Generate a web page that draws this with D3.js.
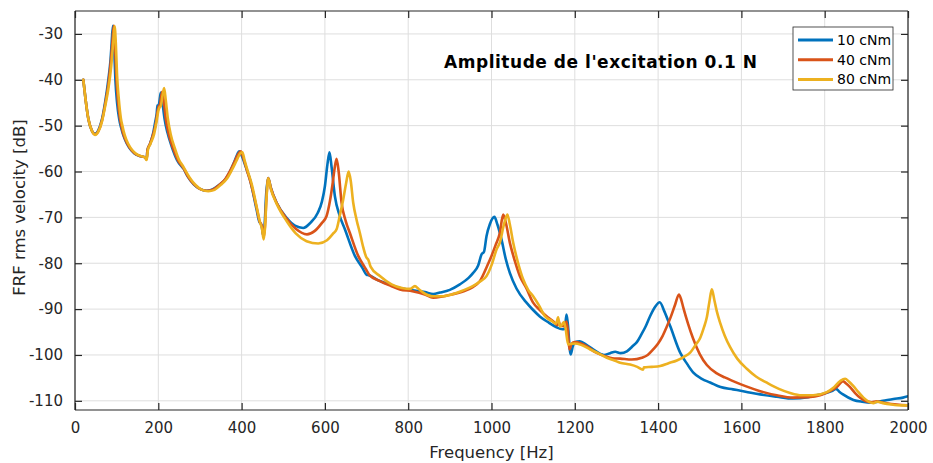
<!DOCTYPE html>
<html>
<head>
<meta charset="utf-8">
<script src="https://cdn.jsdelivr.net/npm/d3@7"></script>
<style>
  html, body { margin: 0; padding: 0; background: #ffffff; }
  svg { display: block; font-family: "DejaVu Sans", sans-serif; }
</style>
</head>
<body>
<svg id="chart" width="933" height="463"></svg>
<script>
// ---- data (frequency in Hz, FRF in dB) ----
const seriesNames = ["10 cNm", "40 cNm", "80 cNm"];
const seriesColors = ["#0072BD", "#D95319", "#EDB120"];
const xTicks = [0, 200, 400, 600, 800, 1000, 1200, 1400, 1600, 1800, 2000];
const yTicks = [-110, -100, -90, -80, -70, -60, -50, -40, -30];
const chartTitle = "Amplitude de l'excitation 0.1 N";
const xLabel = "Frequency [Hz]";
const yLabel = "FRF rms velocity [dB]";

const s10 = [[20,-40],[25,-44],[32,-48.5],[40,-51],[48,-51.8],[56,-51],[65,-48.5],[73,-44.5],[80,-40],[85,-36],[88,-32],[91,-28.2],[94,-33],[97,-40],[101,-45],[106,-48.5],[111,-50.5],[114,-51.5],[120,-53],[130,-54.8],[142,-56],[155,-56.6],[168,-56.9],[172,-57.3],[174,-55.3],[180,-54],[188,-51.5],[193,-49],[196,-47.5],[198,-45.6],[201,-45.5],[206,-42.8],[210,-45],[215,-48.5],[222,-51.5],[232,-54.5],[245,-57.5],[255,-58.8],[260,-59.3],[270,-61],[285,-62.8],[300,-63.8],[315,-64.2],[330,-63.9],[345,-63],[360,-61.8],[372,-60],[382,-58],[390,-56.2],[394,-55.6],[400,-56.5],[410,-59],[420,-61.7],[436,-68.3],[442,-70.8],[448,-71.8],[452,-74],[455,-72],[459,-65],[464,-61.4],[470,-63.5],[484,-66.8],[508,-70.1],[528,-71.8],[548,-72.3],[565,-71.2],[583,-69],[593,-66.5],[600,-63.2],[606,-58.5],[611,-55.8],[616,-59],[624,-65.4],[635,-69.5],[648,-72.6],[672,-78.4],[690,-81],[700,-82.5],[705,-82.6],[730,-83.8],[760,-84.8],[780,-85.4],[810,-85.9],[840,-86.3],[860,-86.7],[876,-86.4],[900,-85.8],[924,-84.6],[945,-83.2],[956,-82.1],[968,-80.5],[976,-78.1],[982,-77.5],[988,-74.1],[996,-71.5],[1007,-69.9],[1014,-71.5],[1024,-74.8],[1034,-79],[1044,-82.1],[1060,-85.5],[1084,-88.6],[1100,-90.2],[1116,-91.6],[1135,-92.8],[1155,-93.9],[1170,-94.4],[1176,-94.3],[1180,-91.2],[1183,-93],[1190,-99.9],[1195,-98.2],[1200,-97.2],[1212,-97],[1228,-97.8],[1244,-98.8],[1270,-100],[1285,-99.6],[1297,-99.3],[1310,-99.6],[1325,-99.2],[1340,-98],[1349,-97.2],[1360,-95.5],[1370,-93.8],[1381,-91.5],[1393,-89.5],[1404,-88.5],[1415,-90.5],[1429,-93.7],[1453,-99.5],[1470,-102],[1484,-103.8],[1505,-105.2],[1525,-106],[1550,-107],[1580,-107.5],[1610,-108],[1645,-108.6],[1685,-109.1],[1724,-109.5],[1760,-109.2],[1789,-108.6],[1817,-107.9],[1827,-107.4],[1835,-108],[1844,-108.6],[1869,-109.8],[1890,-110.2],[1913,-110.4],[1940,-110],[1965,-109.6],[1988,-109.3],[2000,-109]];

const s40 = [[20,-40],[25,-44],[32,-48.5],[40,-51],[48,-51.9],[56,-51.2],[65,-48.8],[73,-45],[80,-41],[86,-36],[90,-31.5],[93,-28.2],[96,-32],[99,-39],[103,-44.5],[108,-48.5],[112,-50.3],[115,-51.5],[121,-53],[131,-54.8],[143,-56],[156,-56.6],[168,-56.9],[172,-57.3],[174,-55.3],[180,-54],[188,-51.8],[194,-49.5],[198,-47],[201,-45.8],[204,-45.4],[209,-42.6],[213,-44.5],[218,-48.5],[225,-51.8],[235,-54.8],[247,-57.5],[257,-58.8],[262,-59.5],[272,-61.2],[287,-62.9],[302,-63.9],[317,-64.2],[332,-63.9],[347,-62.9],[362,-61.5],[374,-59.6],[385,-57.5],[393,-56],[398,-55.6],[404,-57],[413,-59.8],[422,-62.5],[437,-68.3],[443,-70.8],[449,-72],[453,-74.3],[456,-72],[460,-65],[464,-61.4],[470,-63.5],[484,-66.8],[508,-70.3],[530,-72.5],[557,-73.7],[575,-73],[592,-71.3],[604,-69.7],[612,-66.5],[618,-63],[623,-59.5],[628,-57.2],[633,-60],[640,-66.8],[650,-70.8],[660,-73.4],[680,-78.4],[695,-80.8],[701,-81.7],[706,-82.5],[732,-83.9],[760,-85],[780,-85.7],[810,-86.1],[840,-86.8],[860,-87.5],[880,-87.3],[905,-86.8],[930,-86.2],[955,-85.2],[972,-83.9],[990,-80.5],[1000,-78.4],[1010,-76],[1020,-73.4],[1028,-69.4],[1034,-71],[1044,-75.5],[1056,-79.5],[1068,-82.8],[1084,-85.5],[1100,-88.6],[1116,-90.2],[1135,-91.8],[1150,-92.8],[1158,-93.5],[1161,-92.6],[1165,-93.6],[1175,-93.7],[1180,-92.7],[1183,-94.5],[1187,-98.8],[1192,-97.6],[1200,-97.2],[1215,-97.5],[1230,-98.2],[1249,-99.4],[1270,-100.2],[1290,-100.7],[1309,-100.8],[1337,-101],[1361,-100.6],[1375,-100],[1388,-98.8],[1400,-97.5],[1410,-96],[1420,-94],[1430,-91.8],[1441,-89],[1450,-86.8],[1455,-87.8],[1460,-89.5],[1472,-93.2],[1484,-96.4],[1500,-99.8],[1517,-102.2],[1541,-104],[1560,-104.9],[1580,-105.7],[1610,-106.8],[1645,-107.9],[1685,-108.8],[1724,-109.3],[1760,-109.2],[1789,-108.8],[1810,-108],[1829,-107],[1844,-105.7],[1850,-106.1],[1861,-107],[1873,-108.3],[1885,-109.3],[1913,-110.3],[1925,-110.1],[1935,-110.3],[1960,-110.7],[1985,-110.9],[2000,-111]];

const s80 = [[20,-40],[25,-44],[32,-48.5],[40,-51],[48,-52],[56,-51.3],[65,-49],[73,-45.5],[80,-42],[87,-37],[92,-31.5],[95,-28.3],[98,-32],[101,-39],[105,-44],[110,-48.3],[114,-50.1],[117,-51.3],[123,-53],[133,-54.8],[145,-56],[157,-56.6],[168,-56.9],[172,-57.5],[175,-55.3],[181,-54],[190,-51.8],[196,-49],[200,-46.8],[203,-46],[206,-45.7],[210,-43.5],[214,-41.8],[218,-44.5],[223,-48.5],[230,-52],[240,-55],[250,-57.5],[259,-58.8],[264,-59.6],[275,-61.3],[290,-63],[305,-64],[320,-64.3],[335,-64],[350,-62.9],[365,-61.5],[377,-59.6],[388,-57.6],[397,-56],[402,-55.8],[407,-57.5],[415,-60],[425,-63],[438,-68.5],[444,-71],[449,-72.5],[453,-74.8],[456,-72.5],[460,-65.5],[464,-61.5],[470,-63.8],[484,-67],[508,-70.8],[530,-73.5],[556,-75.2],[584,-75.7],[605,-75],[620,-73.5],[628,-72.6],[636,-69.5],[644,-66.1],[651,-62.5],[657,-60],[662,-62],[668,-66.8],[676,-70.5],[684,-73.4],[692,-76.5],[700,-78.8],[704,-79.2],[710,-80.8],[732,-82.8],[760,-84.6],[785,-85.4],[805,-85.6],[816,-85],[825,-85.6],[836,-86.4],[860,-87.2],[880,-87.2],[905,-86.8],[930,-86],[955,-85],[972,-84],[988,-82.8],[1001,-80.2],[1012,-77],[1020,-75.5],[1030,-71.5],[1038,-69.4],[1044,-71.5],[1052,-75.5],[1064,-80],[1076,-83.5],[1088,-85.8],[1100,-87.2],[1114,-89.2],[1128,-91.5],[1145,-92.6],[1155,-93.2],[1160,-91.8],[1164,-93.8],[1170,-93.3],[1174,-92.8],[1178,-94.3],[1184,-97.7],[1190,-97.6],[1200,-97.5],[1215,-97.8],[1237,-98.8],[1260,-99.8],[1277,-100.6],[1295,-101.2],[1309,-101.7],[1333,-102.1],[1350,-102.6],[1364,-103.2],[1366,-102.7],[1385,-102.6],[1405,-102.4],[1425,-101.8],[1445,-101.2],[1462,-100.4],[1477,-99.5],[1490,-97.8],[1501,-96.3],[1510,-94],[1517,-91.8],[1523,-88.5],[1529,-85.7],[1535,-88],[1541,-90.5],[1549,-93],[1560,-95.8],[1573,-98.3],[1590,-100.8],[1613,-103],[1635,-104.7],[1660,-106],[1690,-107.4],[1717,-108.3],[1745,-108.8],[1772,-108.8],[1805,-108.1],[1820,-107.2],[1837,-105.7],[1849,-105.2],[1858,-105.8],[1869,-106.8],[1880,-108],[1893,-109.3],[1917,-110.5],[1926,-110.2],[1940,-110.5],[1960,-110.8],[1985,-111],[2000,-111]];

const seriesData = [s10, s40, s80];

// ---- layout ----
const W = 933, H = 463;
const plot = { left: 75, right: 908, top: 11, bottom: 410 };
const axisColor = "#262626";
const gridColor = "#dedede";

const svg = d3.select("#chart");
const x = d3.scaleLinear().domain([0, 2000]).range([plot.left, plot.right]);
const y = d3.scaleLinear().domain([-112, -25]).range([plot.bottom, plot.top]);

// grid
const grid = svg.append("g");
grid.selectAll("line.gx").data(xTicks).join("line")
  .attr("x1", d => x(d)).attr("x2", d => x(d))
  .attr("y1", plot.top).attr("y2", plot.bottom)
  .attr("stroke", gridColor).attr("stroke-width", 1);
grid.selectAll("line.gy").data(yTicks).join("line")
  .attr("x1", plot.left).attr("x2", plot.right)
  .attr("y1", d => y(d)).attr("y2", d => y(d))
  .attr("stroke", gridColor).attr("stroke-width", 1);

// clip
svg.append("clipPath").attr("id", "clip").append("rect")
  .attr("x", plot.left).attr("y", plot.top)
  .attr("width", plot.right - plot.left).attr("height", plot.bottom - plot.top);

// series
const line = d3.line().x(d => x(d[0])).y(d => y(d[1])).curve(d3.curveMonotoneX);
const lines = svg.append("g").attr("clip-path", "url(#clip)");
seriesData.forEach((s, i) => {
  lines.append("path").datum(s)
    .attr("d", line)
    .attr("fill", "none")
    .attr("stroke", seriesColors[i])
    .attr("stroke-width", 2.6)
    .attr("stroke-linejoin", "round")
    .attr("stroke-linecap", "round");
});

// axes (MATLAB-like box with inward ticks)
const tickLen = 7;
const xAxisB = d3.axisBottom(x).tickValues(xTicks).tickSize(-tickLen).tickPadding(12).tickFormat(d3.format("d"));
const xAxisT = d3.axisTop(x).tickValues(xTicks).tickSize(-tickLen).tickFormat("");
const yAxisL = d3.axisLeft(y).tickValues(yTicks).tickSize(-tickLen).tickPadding(12).tickFormat(d => d3.format("d")(d).replace("\u2212", "-"));
const yAxisR = d3.axisRight(y).tickValues(yTicks).tickSize(-tickLen).tickFormat("");

function styleAxis(g) {
  g.select(".domain").attr("stroke", axisColor).attr("stroke-width", 1.2);
  g.selectAll(".tick line").attr("stroke", axisColor).attr("stroke-width", 1.2);
  g.selectAll(".tick text").attr("fill", axisColor)
    .style("font-family", "'DejaVu Sans', sans-serif").style("font-size", "15px");
}
svg.append("g").attr("transform", `translate(0,${plot.bottom})`).call(xAxisB).call(styleAxis)
  .selectAll(".domain").attr("d", `M${plot.left},0H${plot.right}`);
svg.append("g").attr("transform", `translate(0,${plot.top})`).call(xAxisT).call(styleAxis)
  .selectAll(".domain").attr("d", `M${plot.left},0H${plot.right}`);
svg.append("g").attr("transform", `translate(${plot.left},0)`).call(yAxisL).call(styleAxis)
  .selectAll(".domain").attr("d", `M0,${plot.top}V${plot.bottom}`);
svg.append("g").attr("transform", `translate(${plot.right},0)`).call(yAxisR).call(styleAxis)
  .selectAll(".domain").attr("d", `M0,${plot.top}V${plot.bottom}`);

// axis labels
svg.append("text")
  .attr("x", (plot.left + plot.right) / 2).attr("y", 458)
  .attr("text-anchor", "middle").attr("fill", axisColor)
  .style("font-size", "16.5px").text(xLabel);
svg.append("text")
  .attr("transform", `translate(25,${(plot.top + plot.bottom) / 2 - 3}) rotate(-90)`)
  .attr("text-anchor", "middle").attr("fill", axisColor)
  .style("font-size", "16.5px").text(yLabel);

// annotation title
svg.append("text")
  .attr("x", 444).attr("y", 68)
  .attr("fill", "#000000").style("font-size", "17px").style("font-weight", "bold")
  .attr("textLength", 313).attr("lengthAdjust", "spacing")
  .text(chartTitle);

// legend
const leg = svg.append("g").attr("transform", "translate(793,27)");
leg.append("rect").attr("x", 0).attr("y", 0).attr("width", 100).attr("height", 63)
  .attr("fill", "#ffffff").attr("stroke", "#262626").attr("stroke-width", 0.8);
seriesNames.forEach((n, i) => {
  const yy = 13 + i * 19.7;
  leg.append("line").attr("x1", 5).attr("x2", 40).attr("y1", yy).attr("y2", yy)
    .attr("stroke", seriesColors[i]).attr("stroke-width", 3);
  leg.append("text").attr("x", 44).attr("y", yy + 5)
    .attr("fill", "#000000").style("font-size", "14px").text(n);
});
</script>
</body>
</html>
